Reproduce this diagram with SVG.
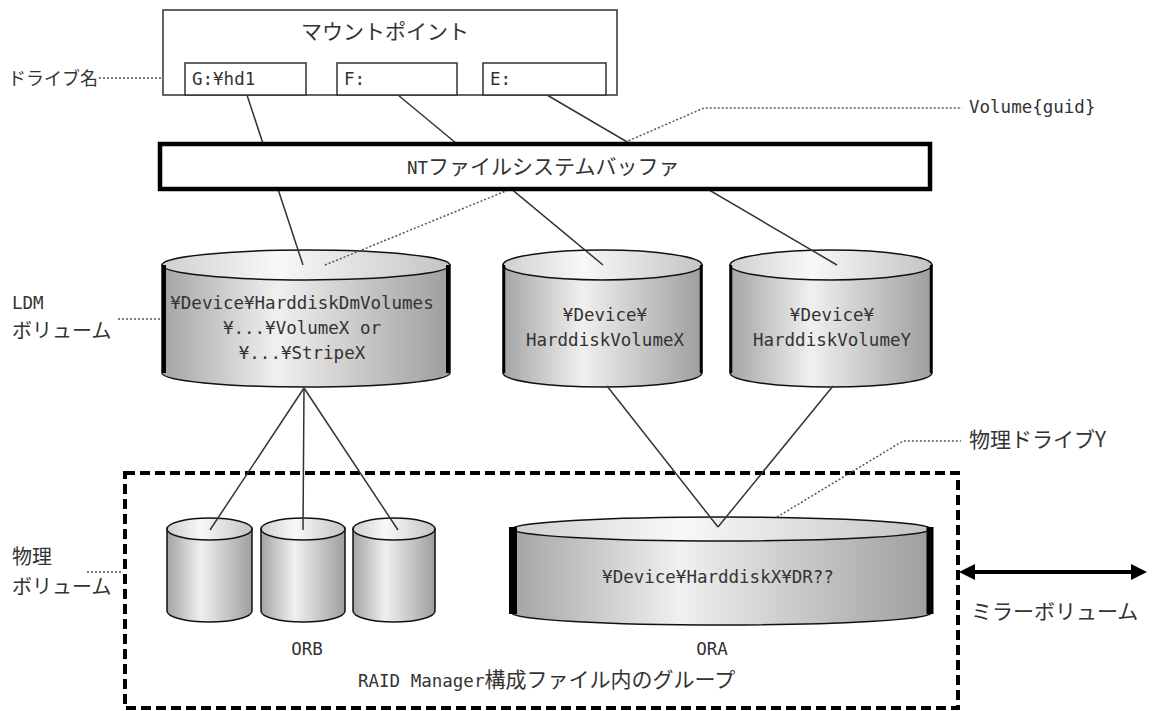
<svg xmlns="http://www.w3.org/2000/svg" width="1153" height="711" viewBox="0 0 1153 711">
<defs>
  <linearGradient id="body" x1="0" y1="0" x2="1" y2="0">
    <stop offset="0" stop-color="#a4a4a4"/>
    <stop offset="0.4" stop-color="#f0f0f0"/>
    <stop offset="1" stop-color="#9e9e9e"/>
  </linearGradient>
  <linearGradient id="top" x1="0" y1="0" x2="1" y2="0">
    <stop offset="0" stop-color="#cfcfcf"/>
    <stop offset="0.4" stop-color="#f8f8f8"/>
    <stop offset="1" stop-color="#c4c4c4"/>
  </linearGradient>
  <marker id="arrow" markerUnits="userSpaceOnUse" markerWidth="16" markerHeight="16" viewBox="0 0 16 16" refX="8" refY="8" orient="auto-start-reverse">
    <path d="M0,0 L16,8 L0,16 z" fill="#000"/>
  </marker>
</defs>
<style>
  .jp { font-family: "Noto Sans CJK JP", sans-serif; font-size: 21px; fill: #333; }
  .lbl { font-family: "Noto Sans CJK JP", sans-serif; font-size: 20px; fill: #333; }
  .mono { font-family: "DejaVu Sans Mono", "Noto Sans CJK JP", monospace; font-size: 17.5px; fill: #333; }
  .cylb { fill: url(#body); stroke: #111; stroke-width: 1.5; }
  .cylt { fill: url(#top); stroke: #111; stroke-width: 1.5; }
  .side { stroke: #000; }
  .line { stroke: #333; stroke-width: 1.5; fill: none; }
  .dot { stroke: #555; stroke-width: 1.5; stroke-dasharray: 2 2; fill: none; }
  .box { fill: #fff; stroke: #333; stroke-width: 1.5; }
</style>
<rect width="1153" height="711" fill="#fff"/>

<g id="ldm-volume">
  <path class="cylb" d="M162,265 L162,373 A144,14 0 0 0 450,373 L450,265 Z"/>
  <ellipse class="cylt" cx="306" cy="265" rx="144" ry="15"/>
  <line class="side" x1="164" y1="265" x2="164" y2="373" stroke-width="4"/>
  <line class="side" x1="448" y1="265" x2="448" y2="373" stroke-width="4"/>
  <text class="mono" x="302" y="309" text-anchor="middle">¥Device¥HarddiskDmVolumes</text>
  <text class="mono" x="302" y="334" text-anchor="middle">¥...¥VolumeX or</text>
  <text class="mono" x="302" y="359" text-anchor="middle">¥...¥StripeX</text>
</g>

<g id="volume-x">
  <path class="cylb" d="M503,265 L503,373 A99.5,14 0 0 0 702,373 L702,265 Z"/>
  <ellipse class="cylt" cx="602.5" cy="265" rx="99.5" ry="15"/>
  <line class="side" x1="504" y1="265" x2="504" y2="373" stroke-width="2.5"/>
  <line class="side" x1="701" y1="265" x2="701" y2="373" stroke-width="2.5"/>
  <text class="mono" x="605" y="321" text-anchor="middle">¥Device¥</text>
  <text class="mono" x="605" y="346" text-anchor="middle">HarddiskVolumeX</text>
</g>

<g id="volume-y">
  <path class="cylb" d="M730,265 L730,373 A101,14 0 0 0 932,373 L932,265 Z"/>
  <ellipse class="cylt" cx="831" cy="265" rx="101" ry="15"/>
  <line class="side" x1="731" y1="265" x2="731" y2="373" stroke-width="2.5"/>
  <line class="side" x1="931" y1="265" x2="931" y2="373" stroke-width="2.5"/>
  <text class="mono" x="832" y="321" text-anchor="middle">¥Device¥</text>
  <text class="mono" x="832" y="346" text-anchor="middle">HarddiskVolumeY</text>
</g>

<g id="orb-disk-1">
  <path class="cylb" d="M167,529 L167,611 A42.5,11 0 0 0 252,611 L252,529 Z"/>
  <ellipse class="cylt" cx="209.5" cy="529" rx="42.5" ry="11"/>
</g>
<g id="orb-disk-2">
  <path class="cylb" d="M261,529 L261,611 A42,11 0 0 0 345,611 L345,529 Z"/>
  <ellipse class="cylt" cx="303" cy="529" rx="42" ry="11"/>
</g>
<g id="orb-disk-3">
  <path class="cylb" d="M353,529 L353,611 A41,11 0 0 0 435,611 L435,529 Z"/>
  <ellipse class="cylt" cx="394" cy="529" rx="41" ry="11"/>
</g>

<g id="ora-disk">
  <path class="cylb" d="M512,529 L512,613 A209.5,12 0 0 0 931,613 L931,529 Z"/>
  <ellipse class="cylt" cx="721.5" cy="529" rx="209.5" ry="12"/>
  <line class="side" x1="513" y1="527" x2="513" y2="614" stroke-width="8"/>
  <line class="side" x1="930" y1="527" x2="930" y2="614" stroke-width="7"/>
  <text class="mono" x="718" y="583" text-anchor="middle">¥Device¥HarddiskX¥DR??</text>
</g>

<g id="raid-group">
  <rect x="125" y="473" width="833" height="235" fill="none" stroke="#000" stroke-width="4" stroke-dasharray="10 5"/>
  <text class="mono" x="307" y="655" text-anchor="middle">ORB</text>
  <text class="mono" x="712" y="655" text-anchor="middle">ORA</text>
  <text class="jp" x="358" y="687"><tspan class="mono">RAID Manager</tspan>構成ファイル内のグループ</text>
</g>

<g id="connectors">
  <line class="line" x1="247" y1="95" x2="303" y2="265"/>
  <line class="line" x1="398" y1="95" x2="603" y2="265"/>
  <line class="line" x1="547" y1="95" x2="837" y2="265"/>
  <line class="line" x1="304" y1="388" x2="210" y2="530"/>
  <line class="line" x1="304" y1="388" x2="303" y2="530"/>
  <line class="line" x1="304" y1="388" x2="398" y2="530"/>
  <line class="line" x1="607" y1="386" x2="718" y2="527"/>
  <line class="line" x1="833" y1="386" x2="718" y2="527"/>
  <polyline class="dot" points="325,265 628,141 704,108 962,108"/>
  <polyline class="dot" points="777,517 903,441 961,441"/>
  <line class="dot" x1="99" y1="78" x2="162" y2="78"/>
  <line class="dot" x1="118" y1="319" x2="160" y2="319"/>
  <line class="dot" x1="87" y1="572" x2="122" y2="572"/>
  <line x1="967" y1="572" x2="1139" y2="572" stroke="#000" stroke-width="4" marker-start="url(#arrow)" marker-end="url(#arrow)"/>
</g>

<g id="nt-buffer">
  <rect x="160" y="144" width="770" height="45" fill="#fff" stroke="#000" stroke-width="4.5"/>
  <text class="jp" x="407" y="174"><tspan class="mono">NT</tspan>ファイルシステムバッファ</text>
</g>

<g id="mount-point">
  <rect class="box" x="163" y="10" width="454" height="85"/>
  <text class="jp" x="385" y="39" text-anchor="middle">マウントポイント</text>
  <rect class="box" x="185" y="63" width="121" height="32"/>
  <text class="mono" x="192" y="85">G:¥hd1</text>
  <rect class="box" x="337" y="63" width="120" height="32"/>
  <text class="mono" x="344" y="85">F:</text>
  <rect class="box" x="483" y="63" width="123" height="32"/>
  <text class="mono" x="490" y="85">E:</text>
</g>

<g id="labels">
  <text class="jp" x="98" y="85" text-anchor="end" style="font-size:18px">ドライブ名</text>
  <text class="mono" x="969" y="113">Volume{guid}</text>
  <text class="mono" x="12" y="309">LDM</text>
  <text class="lbl" x="12" y="338">ボリューム</text>
  <text class="lbl" x="12" y="564">物理</text>
  <text class="lbl" x="12" y="594">ボリューム</text>
  <text class="jp" x="969" y="447">物理ドライブY</text>
  <text class="jp" x="971" y="619">ミラーボリューム</text>
</g>
</svg>
